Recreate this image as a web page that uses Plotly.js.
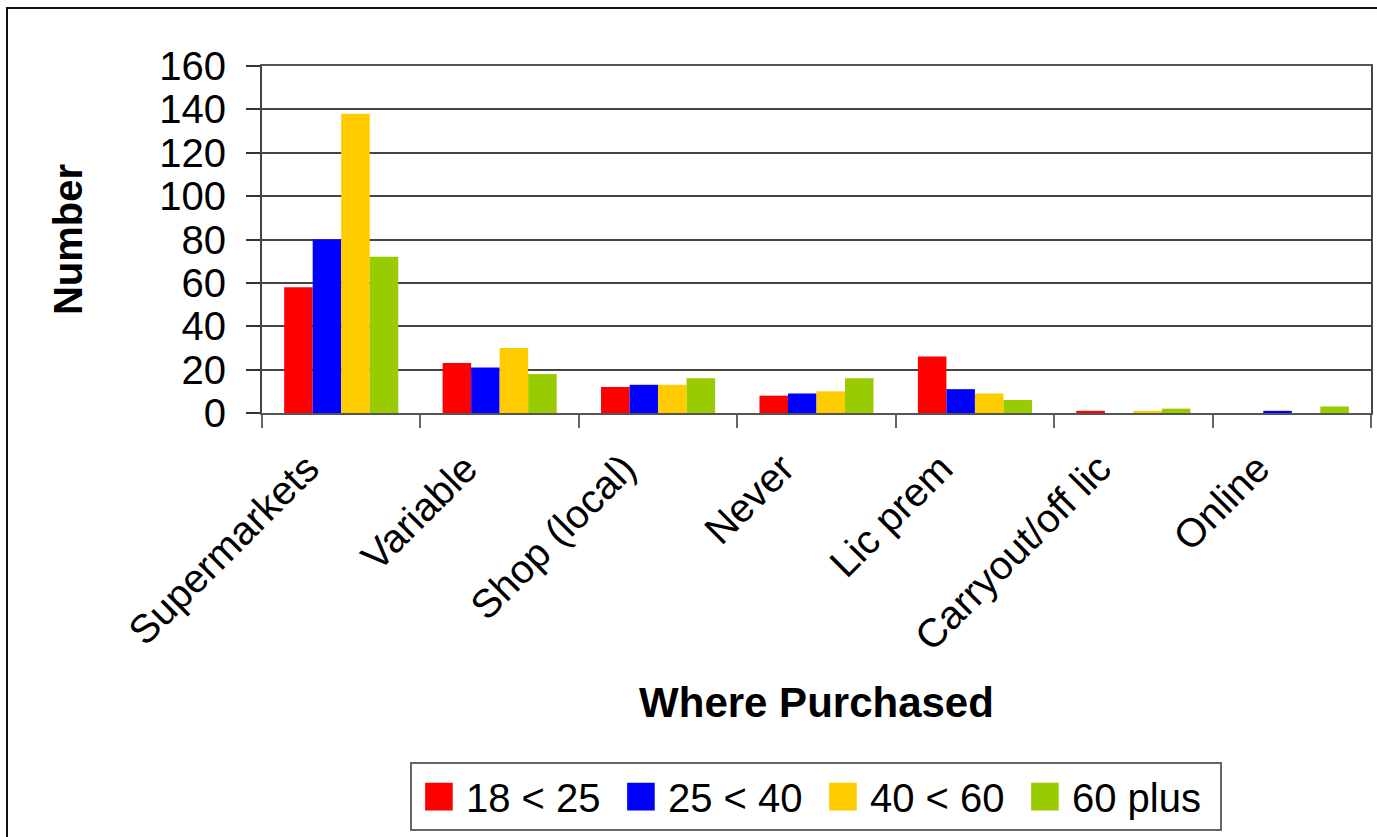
<!DOCTYPE html>
<html>
<head>
<meta charset="utf-8">
<script src="https://cdn.plot.ly/plotly-3.0.1.min.js"></script>
<style>
  html, body { margin: 0; padding: 0; background: #fff; }
  #wrap { position: relative; width: 1377px; height: 837px; overflow: hidden; }
  #chart { width: 1377px; height: 837px; }
  #frame { position: absolute; left: 6px; top: 7px; width: 1400px; height: 900px;
           border-left: 2px solid #111; border-top: 2px solid #111; pointer-events: none; }
</style>
</head>
<body>
<div id="wrap">
  <div id="chart"></div>
  <div id="frame"></div>
</div>
<script>
const categories = ["Supermarkets", "Variable", "Shop (local)", "Never", "Lic prem", "Carryout/off lic", "Online"];
const seriesNames = ["18 < 25", "25 < 40", "40 < 60", "60 plus"];
const age18to25 = [58, 23, 12, 8, 26, 1, 0];
const age25to40 = [80, 21, 13, 9, 11, 0, 1];
const age40to60 = [138, 30, 13, 10, 9, 1, 0];
const age60plus = [72, 18, 16, 16, 6, 2, 3];
const colors = ["#FF0000", "#0000FF", "#FFCC00", "#99CC00"];
const yTicks = [0, 20, 40, 60, 80, 100, 120, 140, 160];

const seriesValues = [age18to25, age25to40, age40to60, age60plus];
const traces = seriesValues.map((vals, i) => ({
  type: "bar",
  name: seriesNames[i],
  x: categories,
  y: vals,
  marker: { color: colors[i], line: { width: 0 } },
  hoverinfo: "x+y+name"
}));

const font = "Liberation Sans, Arial, Helvetica, sans-serif";

const layout = {
  width: 1377,
  height: 837,
  margin: { l: 262, r: 6, t: 66, b: 424, pad: 0 },
  paper_bgcolor: "#ffffff",
  plot_bgcolor: "#ffffff",
  barmode: "group",
  bargap: 0.28,
  bargroupgap: 0,
  font: { family: font, size: 40, color: "#000" },
  showlegend: true,
  legend: {
    orientation: "h",
    xref: "container", yref: "container",
    x: 0.2977, xanchor: "left",
    y: 0.007, yanchor: "bottom",
    bordercolor: "#666", borderwidth: 2,
    bgcolor: "#fff",
    font: { family: font, size: 40, color: "#000" },
    itemwidth: 44,
    entrywidth: 143,
    entrywidthmode: "pixels",
    traceorder: "normal"
  },
  xaxis: {
    type: "category",
    tickangle: -45,
    tickson: "boundaries",
    ticks: "outside",
    ticklen: 13,
    tickwidth: 2,
    tickcolor: "#666",
    ticklabelstandoff: 14,
    ticklabelshift: -34,
    showline: true,
    linecolor: "#555",
    linewidth: 2,
    mirror: true,
    showgrid: false,
    automargin: false,
    tickfont: { family: font, size: 40, color: "#000" },
    title: {
      text: "<b>Where Purchased</b>",
      font: { family: font, size: 42, color: "#000" },
      standoff: 30
    }
  },
  yaxis: {
    range: [0, 160],
    tickvals: yTicks,
    ticktext: yTicks.map(String),
    ticks: "outside",
    ticklen: 14,
    tickwidth: 2,
    tickcolor: "#333",
    ticklabelstandoff: 12,
    showline: true,
    linecolor: "#444",
    linewidth: 2,
    mirror: true,
    showgrid: true,
    gridcolor: "#444",
    gridwidth: 2,
    zeroline: false,
    automargin: false,
    tickfont: { family: font, size: 40, color: "#000" },
    title: {
      text: "<b>Number</b>",
      font: { family: font, size: 40, color: "#000" },
      standoff: 64
    }
  }
};

function enlargeLegendSwatches() {
  const gd = document.getElementById("chart");
  gd.querySelectorAll(".legend .legendpoints path").forEach(p => {
    const t = p.getAttribute("transform") || "";
    if (!/scale/.test(t)) p.setAttribute("transform", (t + " scale(2.3)").trim());
  });
}

const gd = document.getElementById("chart");
Plotly.newPlot(gd, traces, layout, { displayModeBar: false, staticPlot: true })
  .then(() => {
    enlargeLegendSwatches();
    gd.on && gd.on("plotly_afterplot", enlargeLegendSwatches);
  });
</script>
</body>
</html>
